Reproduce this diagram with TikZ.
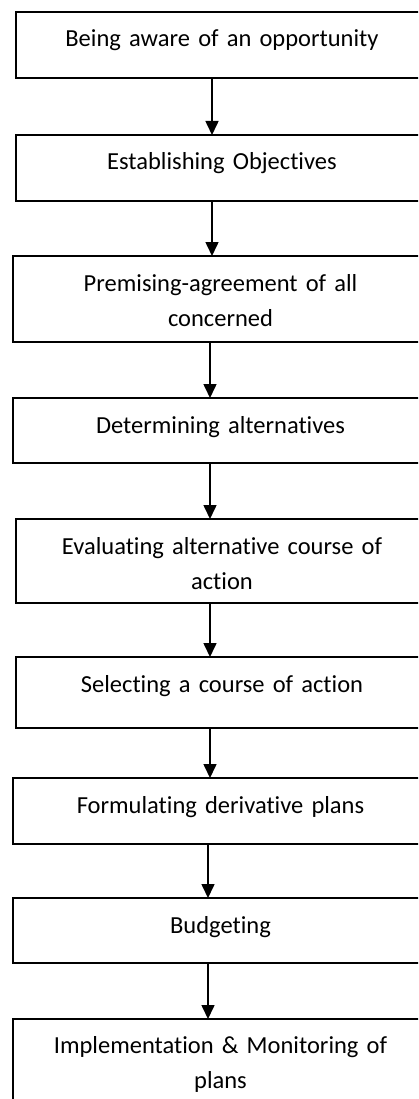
\documentclass[tikz,border=0pt]{standalone}
\usepackage{fontspec}
\setmainfont{Carlito}[Ligatures=NoCommon]
\usetikzlibrary{arrows.meta,positioning}

\begin{document}
\begin{tikzpicture}[x=1pt,y=1pt,>={Triangle[length=14pt,width=13pt]},semithick]
	\tikzset{
		stepbox/.style={draw=black,line width=1.5pt,text width=412pt,align=center,
			inner sep=0pt,outer sep=0pt,text height=35pt,font=\fontsize{24.5}{35}\selectfont},
		wide/.style={text width=415pt},
		flow/.style={->,line width=1.6pt}
	}
	\useasboundingbox (0,0) rectangle (418,-1099);
	\clip (0,0) rectangle (418,-1099);
	\node[stepbox,text depth=31pt,anchor=north west] (b1) at (16,-12) {Being aware of an opportunity};
	\node[stepbox,text depth=31pt,below=57pt of b1]            (b2) {Establishing Objectives};
	\node[stepbox,wide,text depth=51pt,below=55pt of b2,xshift=-1.5pt] (b3) {Premising-agreement of all\\concerned};
	\node[stepbox,wide,text depth=30pt,below=56pt of b3]       (b4) {Determining alternatives};
	\node[stepbox,text depth=49pt,below=56pt of b4,xshift=1.5pt] (b5) {Evaluating alternative course of\\action};
	\node[stepbox,text depth=36pt,below=54pt of b5]            (b6) {Selecting a course of action};
	\node[stepbox,wide,text depth=31pt,below=50pt of b6,xshift=-1.5pt] (b7) {Formulating derivative plans};
	\node[stepbox,wide,text depth=30pt,below=54pt of b7]       (b8) {Budgeting};
	\node[stepbox,wide,text height=34pt,text depth=52pt,below=56pt of b8] (b9) {Implementation \& Monitoring of\\plans};
	% arrows between the steps
	\foreach \a/\b/\s in {b1/b2/-10,b2/b3/-10,b3/b4/-10.5,b4/b5/-10.5,b5/b6/-12,b6/b7/-12,b7/b8/-12.5,b8/b9/-12.5}
		\draw[flow] ([xshift=\s pt]\a.south) -- ([xshift=\s pt]\a.south |- \b.north);
\end{tikzpicture}
\end{document}
